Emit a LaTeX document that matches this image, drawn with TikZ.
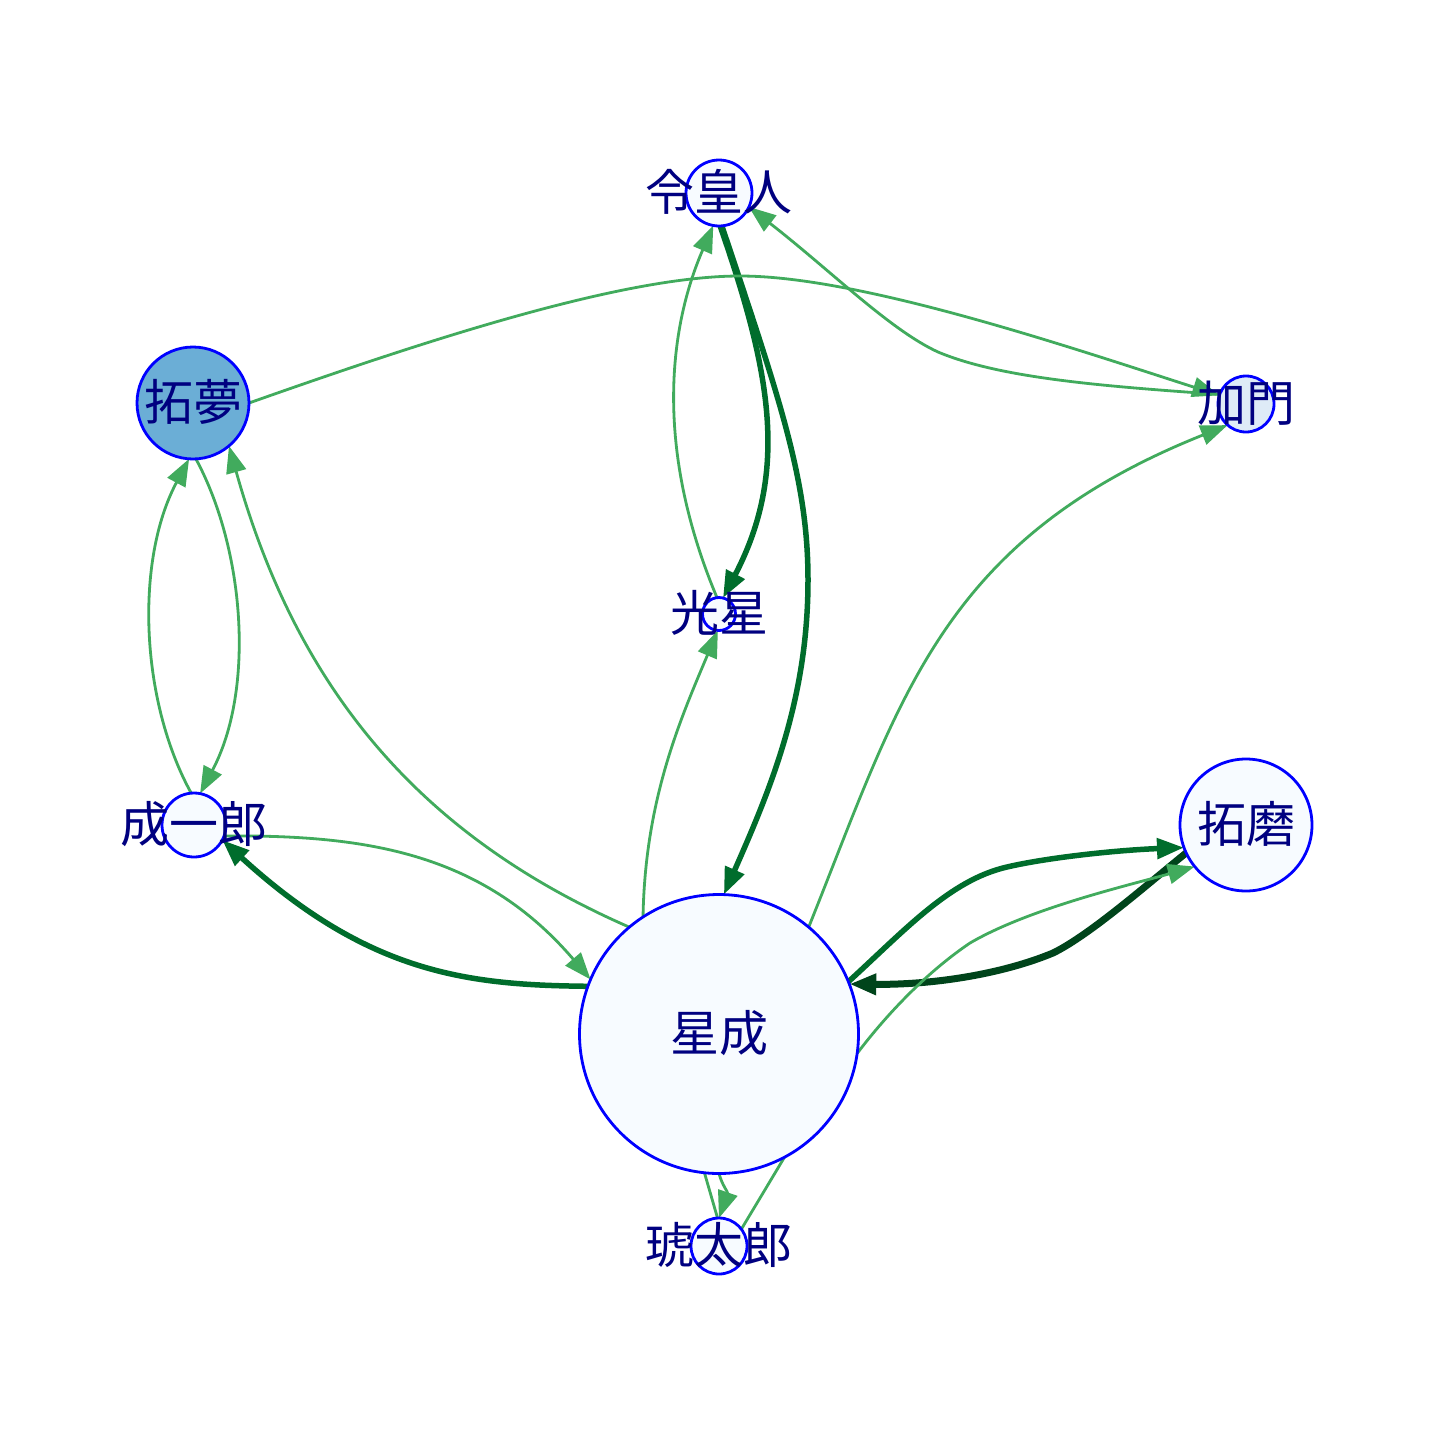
\documentclass[tikz,border=0pt]{standalone}
\usepackage{fontspec}
\newfontfamily\cjk{Noto Sans CJK JP}
\usetikzlibrary{arrows.meta}
\definecolor{lgreen}{HTML}{41AB5D}
\definecolor{dgreen}{HTML}{006D2C}
\definecolor{ddgreen}{HTML}{00441B}
\definecolor{nodefill}{HTML}{F7FBFF}
\definecolor{cfill}{HTML}{DEEBF7}
\definecolor{bfill}{HTML}{6BAED6}
\definecolor{vblue}{HTML}{0000FF}
\definecolor{navytxt}{HTML}{000080}
\pgfdeclarelayer{bg}
\pgfdeclarelayer{fg}
\pgfsetlayers{bg,main,fg}
\tikzset{
  vert/.style={circle, draw=vblue, line width=2.8pt, fill=nodefill, inner sep=0pt, outer sep=0pt},
  lbl/.style={text=navytxt, font=\cjk\fontsize{49}{50}\selectfont, inner sep=0pt, text height=40.7pt, text depth=4.9pt},
  lt/.style={draw=lgreen, line width=2.8pt},
  dk/.style={draw=dgreen, line width=5.5pt},
  dkk/.style={draw=ddgreen, line width=7pt},
  arr/.style={-{Triangle[length=27pt,width=20pt]}}
}
\begin{document}
\begin{tikzpicture}[x=1pt,y=-1pt]
\useasboundingbox (0,0) rectangle (1440,1440);
\node[vert, minimum size=66pt] (A) at (719,193) {};
\node[vert, minimum size=112pt, fill=bfill] (B) at (193,403) {};
\node[vert, minimum size=56pt, fill=cfill] (C) at (1246,404) {};
\node[vert, minimum size=33pt] (D) at (719,614) {};
\node[vert, minimum size=64pt] (E) at (194,825) {};
\node[vert, minimum size=132pt] (F) at (1246,825) {};
\node[vert, minimum size=279pt] (G) at (719,1034) {};
\node[vert, minimum size=56pt] (H) at (719,1246) {};
\begin{pgfonlayer}{bg}
\fill[white] (0,0) rectangle (1440,1440);
% A -> D
\draw[dk,arr] (A.-88) .. controls (770,370) and (790,470) .. (D.76);
% D -> A
\draw[lt,arr] (D.97) .. controls (655,450) and (668,330) .. (A.-100);
% A -> G
\draw[dk,arr] (A.-85) .. controls (780,400) and (808,480) .. (808,580) .. controls (808,700) and (770,790) .. (G.88);
% G -> D
\draw[lt,arr] (G.123) .. controls (645,800) and (680,720) .. (D.-94);
% B -> C
\draw[lt,arr] (B.0) .. controls (419,343) and (620,276) .. (740,276) .. controls (860,276) and (1069,347) .. (C.162);
% C -> A
\draw[lt,arr] (C.160) .. controls (1100,386) and (1000,378) .. (938,352) .. controls (890,330) and (830,270) .. (A.-25);
% G -> C
\draw[lt,arr] (G.50) .. controls (900,700) and (940,540) .. (C.229);
% B -> E
\draw[lt,arr] (B.-87) .. controls (245,550) and (255,690) .. (E.79);
% E -> B
\draw[lt,arr] (E.95) .. controls (140,700) and (135,560) .. (B.-94);
% G -> B
\draw[lt,arr] (G.130) .. controls (430,840) and (300,700) .. (B.-50);
% E -> G
\draw[lt,arr] (E.-20) .. controls (360,835) and (480,850) .. (G.157);
% G -> E
\draw[dk,arr] (G.160) .. controls (470,985) and (370,975) .. (E.-28);
% G -> F
\draw[dk,arr] (G.22) .. controls (905,930) and (950,880) .. (1007,867) .. controls (1050,857) and (1120,850) .. (F.200);
% F -> G
\draw[dkk,arr] (F.205) .. controls (1150,882) and (1090,935) .. (1053,953) .. controls (1000,975) and (930,985) .. (G.21);
% G -> F (light)
\draw[lt,arr] (G.-8) .. controls (890,1010) and (930,970) .. (970,943) .. controls (1030,908) and (1130,885) .. (F.219);
% G -> H
\draw[lt,arr] (G.-90) .. controls (722,1185) and (728,1192) .. (H.90);
\draw[lt] (G.-96) -- (H.93);
\draw[lt] (G.-62) -- (H.37);
\end{pgfonlayer}
\begin{pgfonlayer}{fg}
\node[lbl] (Al) at (A) {令皇人};
\node[lbl] (Bl) at (B) {拓夢};
\node[lbl] (Cl) at (C) {加門};
\node[lbl] (Dl) at (D) {光星};
\node[lbl] (El) at (E) {成一郎};
\node[lbl] (Fl) at (F) {拓磨};
\node[lbl] (Gl) at (G) {星成};
\node[lbl] (Hl) at (H) {琥太郎};
\end{pgfonlayer}
\end{tikzpicture}
\end{document}
